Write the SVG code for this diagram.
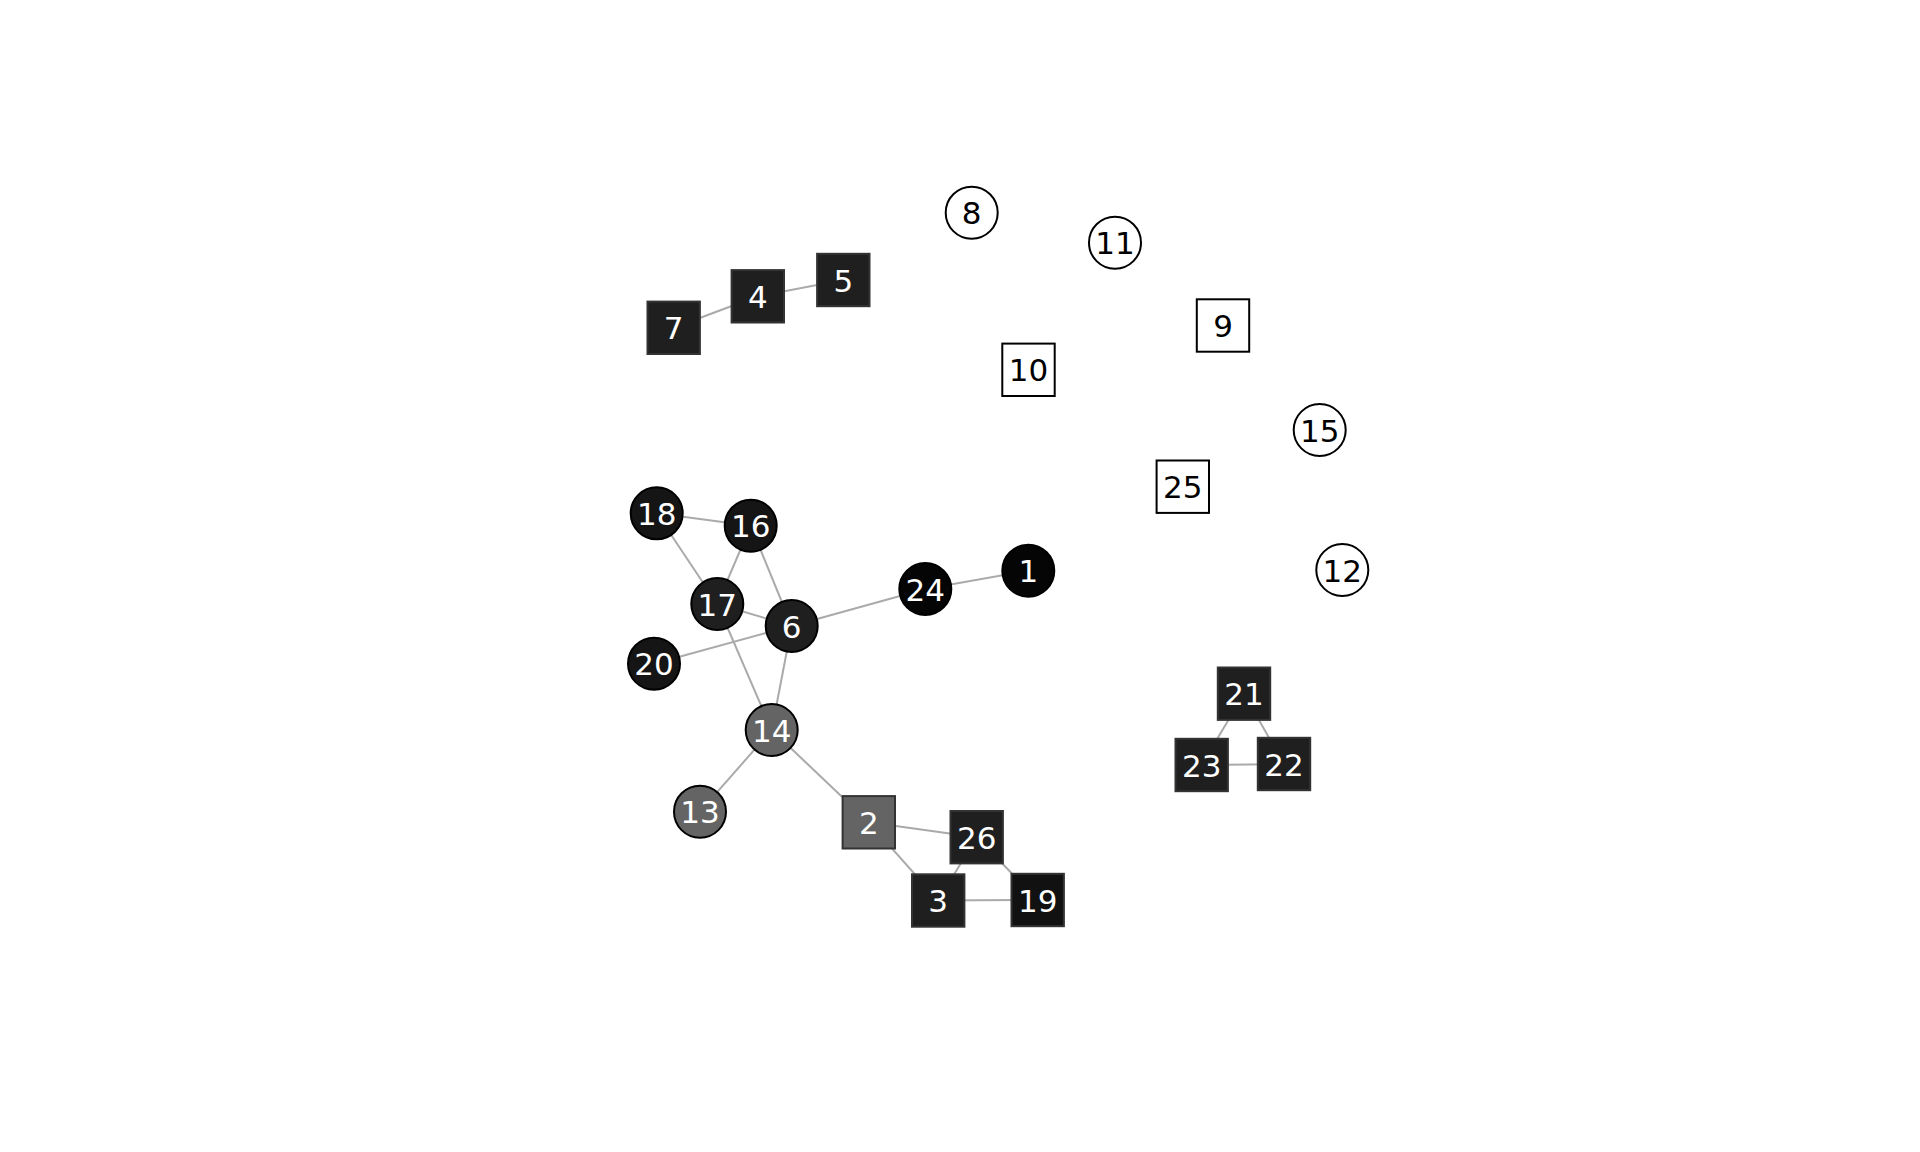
<svg xmlns="http://www.w3.org/2000/svg" width="1920" height="1152" viewBox="0 0 1920 1152">
<style>
.e{stroke:#aaaaaa;stroke-width:2;fill:none}
.n circle,.n rect{stroke-width:2}
.w circle,.w rect{fill:#ffffff;stroke:#000000}
.d circle{fill:#1f1f1f;stroke:#000000}
.d rect{fill:#1f1f1f;stroke:#333333}
.b circle{fill:#050505;stroke:#000000}
.g circle{fill:#646464;stroke:#000000}
.g rect{fill:#646464;stroke:#333333}
.k rect{fill:#111111;stroke:#333333}
.m circle{fill:#151515;stroke:#000000}
text{font-family:"DejaVu Sans",sans-serif;font-size:31px;text-anchor:middle}
.w text{fill:#000000}
.d text,.b text,.g text,.k text,.m text{fill:#ffffff}
</style>
<rect width="1920" height="1152" fill="#ffffff"/>
<g id="edges">
<line class="e" x1="673.7" y1="327.8" x2="757.8" y2="296.3"/>
<line class="e" x1="757.8" y1="296.3" x2="843.3" y2="280"/>
<line class="e" x1="656.7" y1="513.3" x2="750.7" y2="525.7"/>
<line class="e" x1="656.7" y1="513.3" x2="717.3" y2="604"/>
<line class="e" x1="750.7" y1="525.7" x2="717.3" y2="604"/>
<line class="e" x1="750.7" y1="525.7" x2="791.7" y2="626"/>
<line class="e" x1="717.3" y1="604" x2="791.7" y2="626"/>
<line class="e" x1="654" y1="663.7" x2="791.7" y2="626"/>
<line class="e" x1="791.7" y1="626" x2="925.3" y2="589"/>
<line class="e" x1="925.3" y1="589" x2="1028.3" y2="570.7"/>
<line class="e" x1="717.3" y1="604" x2="771.7" y2="730"/>
<line class="e" x1="791.7" y1="626" x2="771.7" y2="730"/>
<line class="e" x1="771.7" y1="730" x2="700" y2="811.7"/>
<line class="e" x1="771.7" y1="730" x2="868.8" y2="822.3"/>
<line class="e" x1="868.8" y1="822.3" x2="976.7" y2="837.2"/>
<line class="e" x1="868.8" y1="822.3" x2="938.2" y2="900.5"/>
<line class="e" x1="976.7" y1="837.2" x2="938.2" y2="900.5"/>
<line class="e" x1="976.7" y1="837.2" x2="1037.7" y2="900"/>
<line class="e" x1="938.2" y1="900.5" x2="1037.7" y2="900"/>
<line class="e" x1="1244" y1="693.7" x2="1201.7" y2="765"/>
<line class="e" x1="1244" y1="693.7" x2="1284" y2="764"/>
<line class="e" x1="1201.7" y1="765" x2="1284" y2="764"/>
</g>
<g id="node1" class="n b"><circle cx="1028.3" cy="570.7" r="26"/><text x="1028.3" y="582.3">1</text></g>
<g id="node2" class="n g"><rect x="842.6" y="796.1" width="52.4" height="52.4"/><text x="868.8" y="833.9">2</text></g>
<g id="node3" class="n d"><rect x="912" y="874.3" width="52.4" height="52.4"/><text x="938.2" y="912.1">3</text></g>
<g id="node4" class="n d"><rect x="731.6" y="270.1" width="52.4" height="52.4"/><text x="757.8" y="307.9">4</text></g>
<g id="node5" class="n d"><rect x="817.1" y="253.8" width="52.4" height="52.4"/><text x="843.3" y="291.6">5</text></g>
<g id="node6" class="n d"><circle cx="791.7" cy="626" r="26"/><text x="791.7" y="637.6">6</text></g>
<g id="node7" class="n d"><rect x="647.5" y="301.6" width="52.4" height="52.4"/><text x="673.7" y="339.4">7</text></g>
<g id="node8" class="n w"><circle cx="971.7" cy="212.7" r="26"/><text x="971.7" y="224.3">8</text></g>
<g id="node9" class="n w"><rect x="1196.8" y="299.3" width="52.4" height="52.4"/><text x="1223" y="337.1">9</text></g>
<g id="node10" class="n w"><rect x="1002.3" y="343.6" width="52.4" height="52.4"/><text x="1028.5" y="381.4">10</text></g>
<g id="node11" class="n w"><circle cx="1115" cy="242.7" r="26"/><text x="1115" y="254.3">11</text></g>
<g id="node12" class="n w"><circle cx="1342.3" cy="570" r="26"/><text x="1342.3" y="581.6">12</text></g>
<g id="node13" class="n g"><circle cx="700" cy="811.7" r="26"/><text x="700" y="823.3">13</text></g>
<g id="node14" class="n g"><circle cx="771.7" cy="730" r="26"/><text x="771.7" y="741.6">14</text></g>
<g id="node15" class="n w"><circle cx="1319.7" cy="430" r="26"/><text x="1319.7" y="441.6">15</text></g>
<g id="node16" class="n m"><circle cx="750.7" cy="525.7" r="26"/><text x="750.7" y="537.3">16</text></g>
<g id="node17" class="n d"><circle cx="717.3" cy="604" r="26"/><text x="717.3" y="615.6">17</text></g>
<g id="node18" class="n m"><circle cx="656.7" cy="513.3" r="26"/><text x="656.7" y="524.9">18</text></g>
<g id="node19" class="n k"><rect x="1011.5" y="873.8" width="52.4" height="52.4"/><text x="1037.7" y="911.6">19</text></g>
<g id="node20" class="n m"><circle cx="654" cy="663.7" r="26"/><text x="654" y="675.3">20</text></g>
<g id="node21" class="n d"><rect x="1217.8" y="667.5" width="52.4" height="52.4"/><text x="1244" y="705.3">21</text></g>
<g id="node22" class="n d"><rect x="1257.8" y="737.8" width="52.4" height="52.4"/><text x="1284" y="775.6">22</text></g>
<g id="node23" class="n d"><rect x="1175.5" y="738.8" width="52.4" height="52.4"/><text x="1201.7" y="776.6">23</text></g>
<g id="node24" class="n b"><circle cx="925.3" cy="589" r="26"/><text x="925.3" y="600.6">24</text></g>
<g id="node25" class="n w"><rect x="1156.6" y="460.5" width="52.4" height="52.4"/><text x="1182.8" y="498.3">25</text></g>
<g id="node26" class="n d"><rect x="950.5" y="811" width="52.4" height="52.4"/><text x="976.7" y="848.8">26</text></g>
</svg>
